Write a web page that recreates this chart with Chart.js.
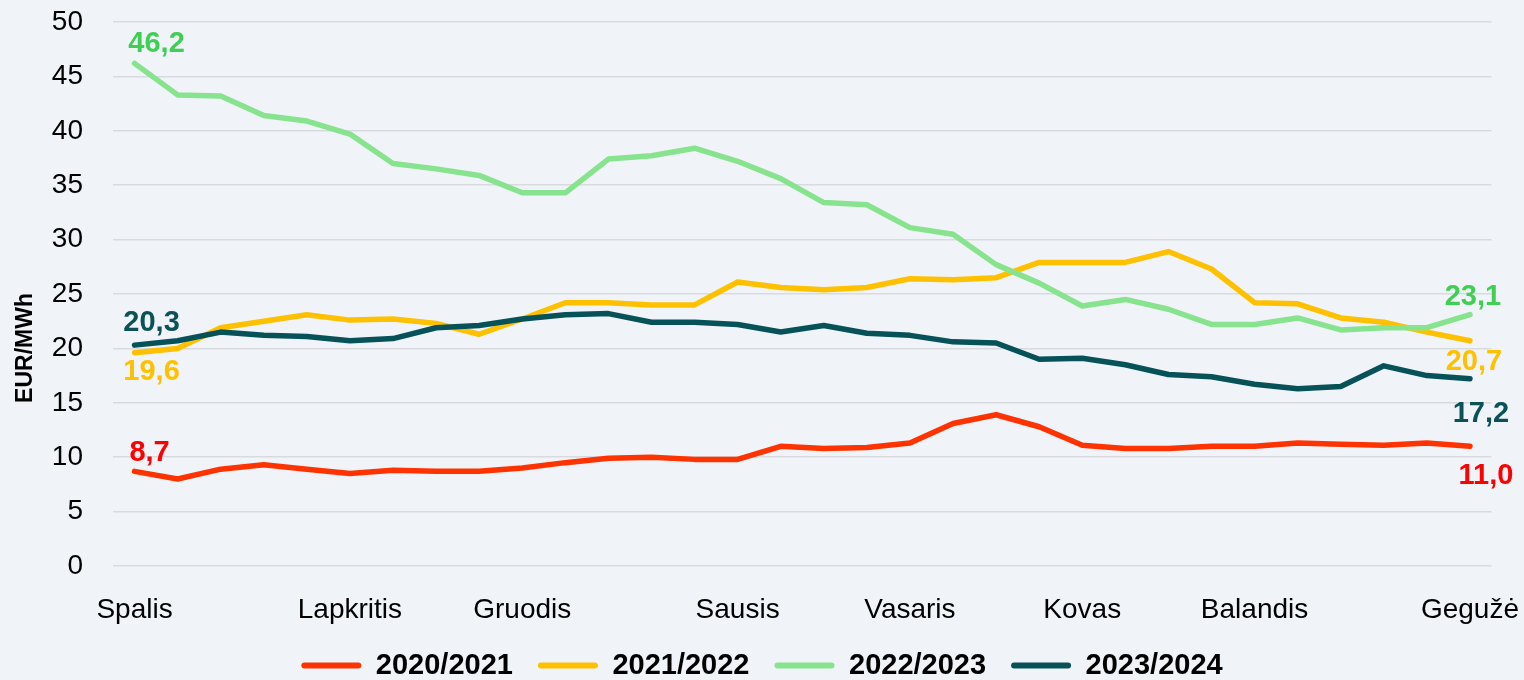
<!DOCTYPE html>
<html><head><meta charset="utf-8">
<script src="https://cdn.jsdelivr.net/npm/chart.js@4.4.0/dist/chart.umd.min.js"></script>
<style>html,body{margin:0;padding:0;background:#F0F4F8;overflow:hidden;width:1524px;height:680px}canvas{display:block}</style>
</head><body>
<canvas id="c" width="1524" height="690"></canvas>
<script>
const categories = ["Spalis","","","","","Lapkritis","","","","Gruodis","","","","","Sausis","","","","Vasaris","","","","Kovas","","","","Balandis","","","","","Gegužė"];
const seriesNames = ["2020/2021","2021/2022","2022/2023","2023/2024"];
const s2020 = [8.7,8.0,8.9,9.3,8.9,8.5,8.8,8.7,8.7,9.0,9.5,9.9,10.0,9.8,9.8,11.0,10.8,10.9,11.3,13.1,13.9,12.8,11.1,10.8,10.8,11.0,11.0,11.3,11.2,11.1,11.3,11.0];
const s2021 = [19.6,20.0,21.9,22.5,23.1,22.6,22.7,22.3,21.3,22.7,24.2,24.2,24.0,24.0,26.1,25.6,25.4,25.6,26.4,26.3,26.5,27.9,27.9,27.9,28.9,27.3,24.2,24.1,22.8,22.4,21.5,20.7];
const s2022 = [46.2,43.3,43.2,41.4,40.9,39.7,37.0,36.5,35.9,34.3,34.3,37.4,37.7,38.4,37.2,35.6,33.4,33.2,31.1,30.5,27.7,26.0,23.9,24.5,23.6,22.2,22.2,22.8,21.7,21.9,21.9,23.1];
const s2023 = [20.3,20.7,21.5,21.2,21.1,20.7,20.9,21.9,22.1,22.7,23.1,23.2,22.4,22.4,22.2,21.5,22.1,21.4,21.2,20.6,20.5,19.0,19.1,18.5,17.6,17.4,16.7,16.3,16.5,18.4,17.5,17.2];
const yTicks = [0,5,10,15,20,25,30,35,40,45,50];
const yTitle = "EUR/MWh";

const lineColors = ["#FF3300","#FFC000","#88E38F","#065258"];
const labelColors = ["#FF0000","#FFC000","#40CF55","#0A5258"];
// label offsets [dx, dy] for first and last point
const firstOff = [[15,-18],[17,19],[22,-19],[17,-22]];
const lastOff = [[16,30],[4,21],[3,-18],[11,35]];

const seriesValues = [s2020, s2021, s2022, s2023];
const FONT = "'Liberation Sans', Arial, sans-serif";

const endLabels = {
  id: 'endLabels',
  afterDatasetsDraw(chart) {
    const ctx = chart.ctx;
    ctx.save();
    ctx.font = "bold 29px " + FONT;
    ctx.textAlign = 'center';
    ctx.textBaseline = 'middle';
    chart.data.datasets.forEach((ds, i) => {
      const meta = chart.getDatasetMeta(i);
      const pts = meta.data;
      const f = pts[0], l = pts[pts.length - 1];
      const fmt = v => v.toFixed(1).replace('.', ',');
      ctx.fillStyle = labelColors[i];
      ctx.fillText(fmt(ds.data[0]), f.x + firstOff[i][0], f.y + firstOff[i][1]);
      ctx.fillText(fmt(ds.data[ds.data.length - 1]), l.x + lastOff[i][0], l.y + lastOff[i][1]);
    });
    ctx.restore();
  },
  afterDraw(chart) {
    const ctx = chart.ctx;
    const ca = chart.chartArea;
    ctx.save();
    ctx.translate(26, (ca.top + ca.bottom) / 2 + 54);
    ctx.rotate(-Math.PI / 2);
    ctx.font = "bold 23px " + FONT;
    ctx.fillStyle = "#000";
    ctx.textAlign = 'center';
    ctx.textBaseline = 'middle';
    ctx.fillText(yTitle, 0, 0);
    ctx.restore();
  }
};

new Chart(document.getElementById('c'), {
  type: 'line',
  data: {
    labels: categories,
    datasets: seriesValues.map((vals, i) => ({
      label: seriesNames[i],
      data: vals,
      borderColor: lineColors[i],
      backgroundColor: lineColors[i],
      borderWidth: 5.5,
      pointRadius: 0,
      tension: 0,
      borderJoinStyle: 'round',
      borderCapStyle: 'round',
      order: 4 - i
    }))
  },
  options: {
    responsive: false,
    devicePixelRatio: 1,
    animation: false,
    layout: { padding: { left: 0, right: 0, top: 22, bottom: 0 } },
    scales: {
      x: {
        offset: true,
        grid: { display: true, drawOnChartArea: false, drawTicks: true, tickLength: 22, tickColor: 'rgba(0,0,0,0)', color: 'rgba(0,0,0,0)' },
        border: { display: false },
        ticks: { autoSkip: false, maxRotation: 0, minRotation: 0, padding: 5, color: '#000', font: { family: FONT, size: 28 } },
        afterFit(s) { s.height = 60; }
      },
      y: {
        min: 0, max: 50,
        afterBuildTicks(s) { s.ticks = yTicks.map(v => ({ value: v })); },
        grid: { color: '#D8DADD', lineWidth: 1.5, drawTicks: true, tickLength: 27, tickColor: 'rgba(0,0,0,0)' },
        border: { display: false },
        ticks: { padding: 3, color: '#000', font: { family: FONT, size: 28 } },
        afterFit(s) { s.width = 113; }
      }
    },
    plugins: {
      tooltip: { enabled: false },
      legend: {
        position: 'bottom',
        labels: {
          boxWidth: 60, boxHeight: 6, padding: 25, color: '#000',
          useBorderRadius: true, borderRadius: 3,
          font: { family: FONT, size: 29, weight: 'bold' },
          generateLabels(chart) {
            return chart.data.datasets.map((ds, i) => ({
              text: ds.label, fillStyle: lineColors[i], strokeStyle: lineColors[i],
              lineWidth: 0, hidden: false, datasetIndex: i, borderRadius: 3
            }));
          }
        }
      }
    }
  },
  plugins: [endLabels]
});
</script>
</body></html>
